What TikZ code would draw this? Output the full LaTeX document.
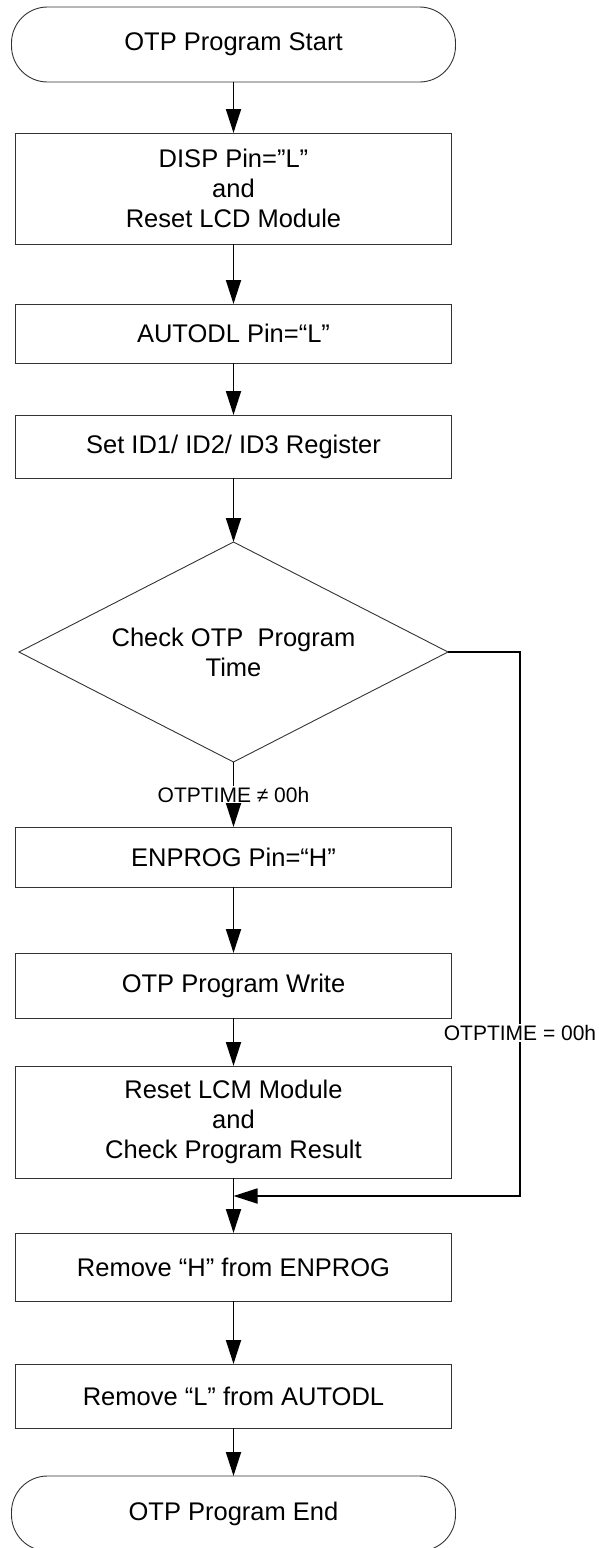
\documentclass[tikz,border=0pt]{standalone}
\usepackage{fontspec}
\setmainfont{Liberation Sans}
\usetikzlibrary{positioning,shapes.geometric,arrows.meta}

\begin{document}
\begin{tikzpicture}[x=1pt,y=1pt,font=\fontsize{25.5}{30}\selectfont,
  >={Triangle[length=24pt,width=15pt]},
  flow/.style = {line width=1.8pt},
  term/.style = {draw=black!80, line width=0.9pt, outer sep=0pt, rectangle, rounded corners=36pt, minimum width=444pt, minimum height=75pt},
  proc/.style = {draw=black!80, line width=0.9pt, outer sep=0pt, rectangle, minimum width=436pt, align=center},
  decision/.style = {draw=black!80, line width=0.9pt, outer sep=0pt, diamond, aspect=2, inner sep=0pt, minimum width=429pt, minimum height=220pt, align=center},
  cond/.style = {fill=white, inner sep=1pt, font=\fontsize{21}{24}\selectfont}]

\useasboundingbox (0,0) rectangle (598,-1548);

\node[term] (start) at (233.5,-44.5) {OTP Program Start};
\node[proc, minimum height=111pt, below=51pt of start] (disp) {DISP Pin=”L”\\and\\Reset LCD Module};
\node[proc, minimum height=59pt, below=60pt of disp] (autodl) {AUTODL Pin=“L”};
\node[proc, minimum height=63pt, below=52pt of autodl] (setid) {Set ID1/ ID2/ ID3 Register};
\node[decision, below=64pt of setid] (chk) {Check OTP~ Program\\Time};
\node[proc, minimum height=60pt, below=65pt of chk] (enprog) {ENPROG Pin=“H”};
\node[proc, minimum height=65pt, below=66pt of enprog] (write) {OTP Program Write};
\node[proc, minimum height=112pt, below=48pt of write] (reset) {Reset LCM Module\\and\\Check Program Result};
\node[proc, minimum height=68pt, below=55pt of reset] (remH) {Remove “H” from ENPROG};
\node[proc, minimum height=64pt, below=63pt of remH] (remL) {Remove “L” from AUTODL};
\node[term, below=48pt of remL] (stop) {OTP Program End};

\coordinate[right=72pt of chk.east] (turn);
\coordinate[below=18pt of reset] (join);

\draw[flow,->] (start) -- (disp);
\draw[flow,->] (disp) -- (autodl);
\draw[flow,->] (autodl) -- (setid);
\draw[flow,->] (setid) -- (chk);
\draw[flow,->] (chk) -- node[cond] (ne) {OTPTIME ≠ 00h} (enprog);
\draw[flow,->] (enprog) -- (write);
\draw[flow,->] (write) -- (reset);
\draw[flow,->] (reset) -- (remH);
\draw[flow,->] (chk.east) -- (turn) |- node[cond, pos=0.35] (eq) {OTPTIME = 00h} (join);
\draw[flow,->] (remH) -- (remL);
\draw[flow,->] (remL) -- (stop);

\end{tikzpicture}
\end{document}
